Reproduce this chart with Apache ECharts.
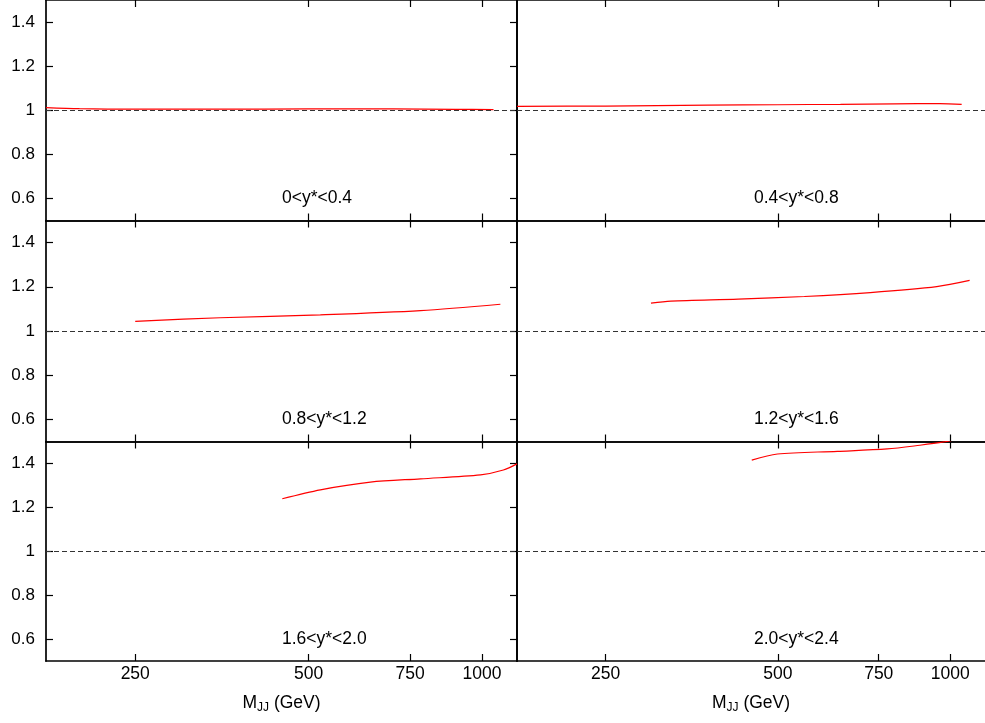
<!DOCTYPE html>
<html>
<head>
<meta charset="utf-8">
<script src="https://cdn.jsdelivr.net/npm/echarts@6/dist/echarts.min.js"></script>
<style>
  html, body { margin: 0; padding: 0; background: #fff; }
  #chart { width: 985px; height: 723px; }
</style>
</head>
<body>
<div id="chart"></div>
<script>
// Ratio vs dijet mass, one panel per rapidity bin
const massTicks = [250, 500, 750, 1000];
const ratioTicks = [0.6, 0.8, 1, 1.2, 1.4];
const binLabels = ['0<y*<0.4', '0.4<y*<0.8', '0.8<y*<1.2', '1.2<y*<1.6', '1.6<y*<2.0', '2.0<y*<2.4'];

const bin1Mass  = [175, 200, 250, 350, 500, 700, 900, 1047];
const bin1Ratio = [1.012, 1.007, 1.005, 1.005, 1.006, 1.006, 1.004, 1.003];

const bin2Mass  = [175, 250, 377, 500, 643, 800, 959, 1047];
const bin2Ratio = [1.018, 1.019, 1.023, 1.025, 1.027, 1.029, 1.030, 1.027];

const bin3Mass  = [250, 351, 524, 782, 1076];
const bin3Ratio = [1.044, 1.060, 1.073, 1.092, 1.121];

const bin4Mass  = [300, 325, 426, 556, 725, 947, 1081];
const bin4Ratio = [1.126, 1.135, 1.144, 1.156, 1.174, 1.201, 1.229];

const bin5Mass  = [450, 524, 640, 782, 994, 1089, 1150];
const bin5Ratio = [1.239, 1.280, 1.315, 1.330, 1.348, 1.370, 1.398];

const bin6Mass  = [450, 499, 635, 776, 885, 974, 1050];
const bin6Ratio = [1.415, 1.443, 1.455, 1.466, 1.483, 1.498, 1.515];

const binMass  = [bin1Mass, bin2Mass, bin3Mass, bin4Mass, bin5Mass, bin6Mass];
const binRatio = [bin1Ratio, bin2Ratio, bin3Ratio, bin4Ratio, bin5Ratio, bin6Ratio];

const FONT = 'Liberation Sans, Arial, sans-serif';
const colLeft = [46, 517];
const panelWidth = 471;
const rowTop = [-0.5, 220.5, 441.5];
const rowHeight = [221, 221, 219.5];

const grids = [], xAxes = [], yAxes = [], series = [], graphics = [];
const axisLine = { show: true, onZero: false, lineStyle: { color: '#000', width: 1.7 } };
const tickStyle = { color: '#000', width: 1.2 };

for (let i = 0; i < 6; i++) {
  const row = Math.floor(i / 2), col = i % 2;
  grids.push({ left: colLeft[col], top: rowTop[row], width: panelWidth, height: rowHeight[row] });
  const isBottom = row === 2;
  // bottom and top mass axes
  xAxes.push({
    type: 'log', gridIndex: i, position: 'bottom', min: 175, max: 1150,
    axisLine: axisLine,
    axisTick: { show: true, inside: true, length: 7, lineStyle: tickStyle, customValues: massTicks },
    axisLabel: {
      show: isBottom, customValues: massTicks, color: '#000', fontSize: 17.5, fontFamily: FONT, margin: 4,
      formatter: v => String(Math.round(v))
    },
    splitLine: { show: false },
    name: isBottom ? '{m|M}{s|JJ}{m| (GeV)}' : '',
    nameLocation: 'middle', nameGap: 32,
    nameTextStyle: {
      rich: {
        m: { fontSize: 17.5, fontFamily: FONT, color: '#000', lineHeight: 20 },
        s: { fontSize: 12, fontFamily: FONT, color: '#000', lineHeight: 20, padding: [10, 0, 0, 0] }
      }
    }
  });
  xAxes.push({
    type: 'log', gridIndex: i, position: 'top', min: 175, max: 1150,
    axisLine: axisLine,
    axisTick: { show: true, inside: true, length: 7, lineStyle: tickStyle, customValues: massTicks },
    axisLabel: { show: false },
    splitLine: { show: false }
  });
  // left and right ratio axes
  yAxes.push({
    type: 'value', gridIndex: i, position: 'left', min: 0.5, max: 1.5,
    axisLine: axisLine,
    axisTick: { show: col === 0, inside: true, length: 7, lineStyle: tickStyle, customValues: ratioTicks },
    axisLabel: { show: col === 0, customValues: ratioTicks, color: '#000', fontSize: 17, fontFamily: FONT, margin: 11 },
    splitLine: { show: false }
  });
  yAxes.push({
    type: 'value', gridIndex: i, position: 'right', min: 0.5, max: 1.5,
    show: col === 0,
    axisLine: axisLine,
    axisTick: { show: true, inside: true, length: 7, lineStyle: tickStyle, customValues: ratioTicks },
    axisLabel: { show: false },
    splitLine: { show: false }
  });

  const pts = binMass[i].map((m, k) => [m, binRatio[i][k]]);
  series.push({
    type: 'line', xAxisIndex: 2 * i, yAxisIndex: 2 * i, data: pts,
    smooth: 0.3, showSymbol: false, clip: true,
    lineStyle: { color: '#ff0000', width: 1.2 },
    markLine: {
      silent: true, symbol: 'none', label: { show: false },
      lineStyle: { color: '#333', type: [5, 3], width: 1 },
      data: [{ yAxis: 1 }]
    },
    z: 3
  });

  graphics.push({
    type: 'text',
    left: colLeft[col] + 236 + col,
    top: rowTop[row] + rowHeight[row] - 31,
    style: { text: binLabels[i], font: '17.5px ' + FONT, fill: '#000' }
  });
}

const chart = echarts.init(document.getElementById('chart'), null, { renderer: 'canvas' });
chart.setOption({
  animation: false,
  backgroundColor: '#fff',
  grid: grids,
  xAxis: xAxes,
  yAxis: yAxes,
  series: series,
  graphic: graphics
});
</script>
</body>
</html>
